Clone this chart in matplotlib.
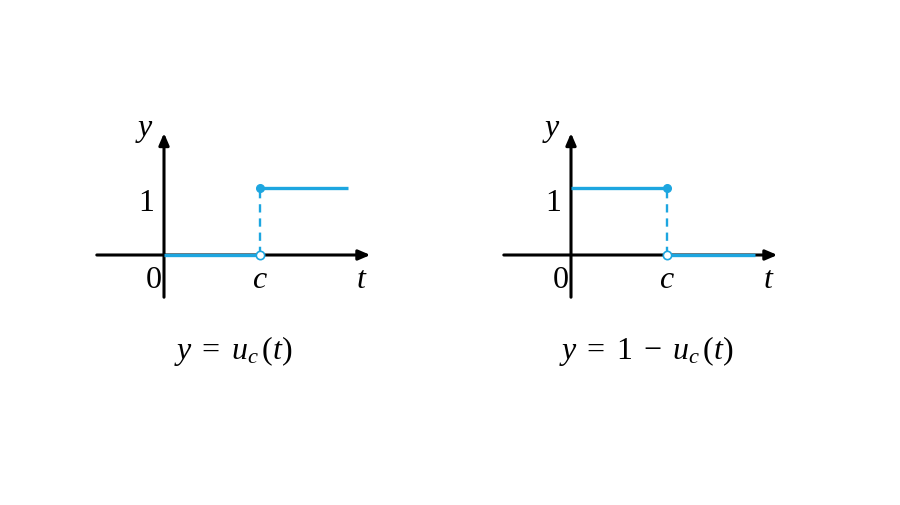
import matplotlib
matplotlib.use('Agg')
import matplotlib.pyplot as plt

# step data, in units where c = 1
C = 1.0
T_END = 1.92
left_t = [[0, C], [C, T_END]]
left_y = [[0, 0], [1, 1]]
right_t = [[0, C], [C, T_END]]
right_y = [[1, 1], [0, 0]]
titles = [r'$y\;=\;u_c\,(t)$', r'$y\;=\;1\;-\;u_c\,(t)$']

BLUE = '#1DA6E0'
W, H = 900, 506

plt.rcParams['mathtext.fontset'] = 'custom'
plt.rcParams['mathtext.rm'] = 'Liberation Serif'
plt.rcParams['mathtext.it'] = 'Liberation Serif:italic'
plt.rcParams['font.family'] = 'Liberation Serif'

fig = plt.figure(figsize=(9, 5.06), dpi=100)

SX, SY = 96.0, 67.0  # pixels per data unit


def make_axes(ox, oy, box):
    L, T, R, B = box
    ax = fig.add_axes([L / W, 1 - B / H, (R - L) / W, (B - T) / H])
    ax.set_xlim((L - ox) / SX, (R - ox) / SX)
    ax.set_ylim((oy - B) / SY, (oy - T) / SY)
    ax.axis('off')
    return ax


def draw_panel(ax, ts, ys, dot_y, open_y, title, tx):
    # axes with arrows
    arrow = dict(arrowstyle='-|>,head_length=0.7,head_width=0.3',
                 color='black', lw=2.2, shrinkA=0, shrinkB=0)
    ax.annotate('', xy=(2.15, 0), xytext=(-0.70, 0), arrowprops=arrow)
    ax.annotate('', xy=(0, 1.82), xytext=(0, -0.63), arrowprops=arrow)
    for t, y in zip(ts, ys):
        ax.plot(t, y, color=BLUE, lw=2.4, solid_capstyle='butt', zorder=3)
    ax.plot([C, C], [0, 1], color=BLUE, lw=1.7, ls=(0, (3.5, 2.5)), zorder=3)
    ax.plot([C], [dot_y], 'o', color=BLUE, ms=5.5, zorder=4)
    ax.plot([C], [open_y], 'o', mfc='white', mec=BLUE, mew=1.2, ms=6, zorder=4)

    fs = 23
    ax.text(-0.20, 1.88, '$y$', fontsize=fs, ha='center', va='center')
    ax.text(-0.19, 0.79, '1', fontsize=fs, ha='center', va='center')
    ax.text(-0.11, -0.37, '0', fontsize=fs, ha='center', va='center')
    ax.text(C, -0.37, '$c$', fontsize=fs, ha='center', va='center')
    ax.text(2.06, -0.37, '$t$', fontsize=fs, ha='center', va='center')
    ax.text(tx, -1.42, title, fontsize=fs, ha='center', va='center')


ax1 = make_axes(164, 256, (60, 100, 420, 400))
draw_panel(ax1, left_t, left_y, 1, 0, titles[0], 0.72)

ax2 = make_axes(571, 256, (470, 100, 830, 400))
draw_panel(ax2, right_t, right_y, 1, 0, titles[1], 0.78)

plt.savefig('out.png', dpi=100)
plt.close()
